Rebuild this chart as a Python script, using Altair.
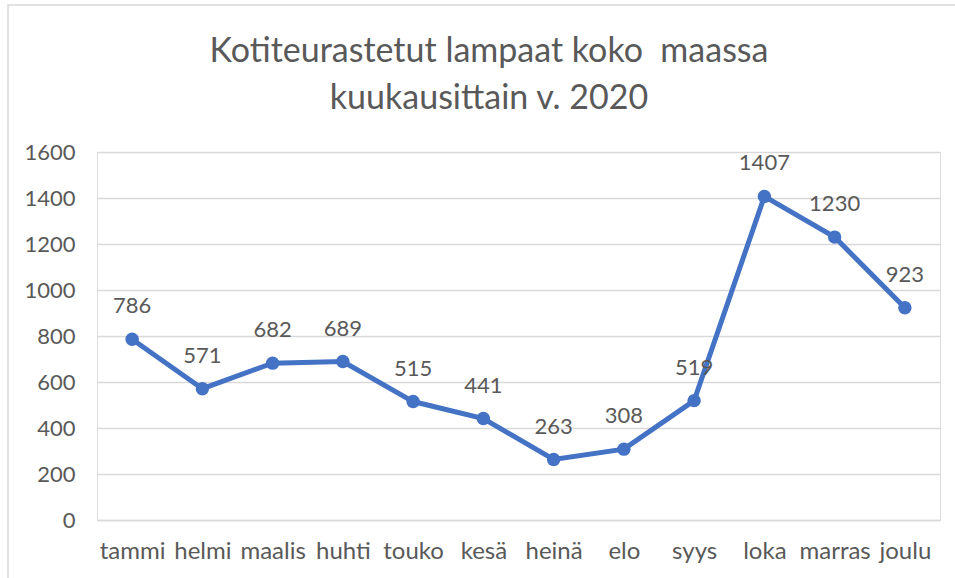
import altair as alt
import pandas as pd

months = ["tammi", "helmi", "maalis", "huhti", "touko", "kesä", "heinä", "elo", "syys", "loka", "marras", "joulu"]
values = [786, 571, 682, 689, 515, 441, 263, 308, 519, 1407, 1230, 923]
y_ticks = [0, 200, 400, 600, 800, 1000, 1200, 1400, 1600]
title_lines = ["Kotiteurastetut lampaat koko \u00a0maassa", "kuukausittain v. 2020"]

df = pd.DataFrame({"kk": months, "n": values})
tdf = pd.DataFrame({"t": title_lines, "yy": [-90, -43]})

W, H = 843, 368
FONT = "Lato"
GREY = "#595959"
BLUE = "#4472C4"

x = alt.X("kk:N", sort=months, scale=alt.Scale(type="point", padding=0.5),
          axis=alt.Axis(title=None, labelAngle=0, labelFontSize=24, labelColor=GREY, labelFont=FONT,
                        labelPadding=19, ticks=False, domainColor="#d9d9d9", domainWidth=1.5, grid=False))
y = alt.Y("n:Q", scale=alt.Scale(domain=[0, 1600], nice=False),
          axis=alt.Axis(title=None, values=y_ticks, format="d", labelFontSize=22, labelColor=GREY, labelFont=FONT,
                        labelPadding=22, ticks=False, domain=False, gridColor="#d9d9d9", gridWidth=1.5))

base = alt.Chart(df)

border = alt.Chart(pd.DataFrame({"k": [0]})).mark_rect(fill=None, stroke="#d9d9d9", strokeWidth=1.5, clip=False).encode(
    x=alt.value(-89), x2=alt.value(W + 40), y=alt.value(-147), y2=alt.value(H + 80))

title = alt.Chart(tdf).mark_text(fontSize=34, font=FONT, color=GREY, baseline="alphabetic", align="center").encode(
    x=alt.value(392), y=alt.Y("yy:Q", scale=None), text="t:N")

line = base.mark_line(color=BLUE, strokeWidth=5).encode(x=x, y=y)
points = base.mark_circle(color=BLUE, size=180, opacity=1).encode(x=x, y=y)
labels = base.mark_text(dy=-33, fontSize=22, color=GREY, font=FONT).encode(
    x=x, y=y, text=alt.Text("n:Q"))

chart = alt.layer(border, line, points, labels, title).properties(
    width=W, height=H,
    autosize=alt.AutoSizeParams(type="none"),
    padding={"left": 97, "top": 152, "right": 15, "bottom": 58},
).configure_view(stroke=None).configure(background="white")

chart.save("out.html", embed_options={"renderer": "svg", "actions": False})
